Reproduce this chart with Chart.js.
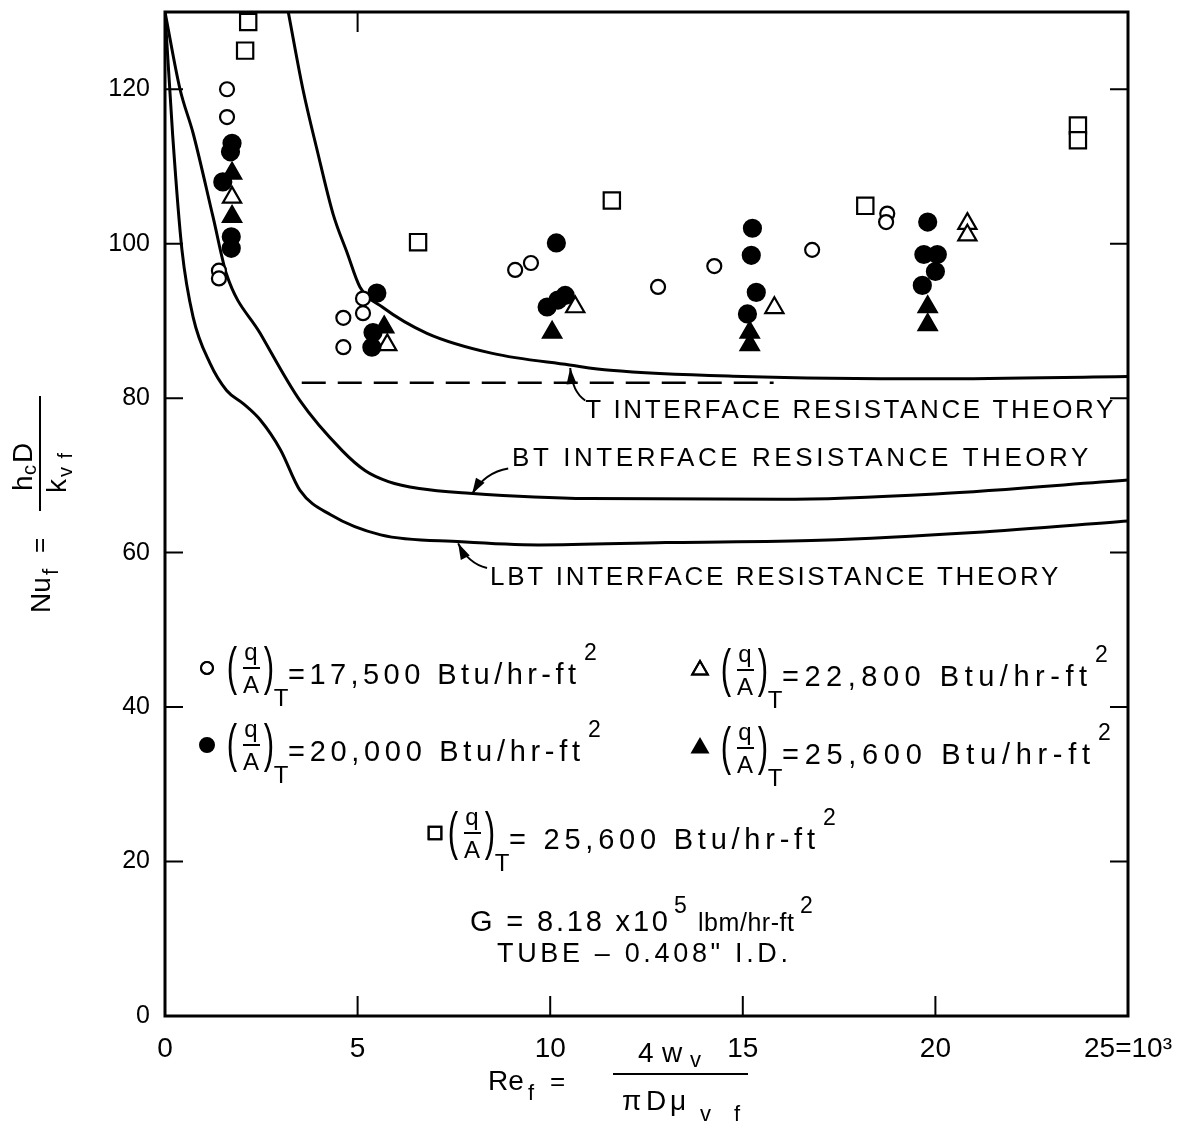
<!DOCTYPE html>
<html>
<head>
<meta charset="utf-8">
<script src="https://cdn.jsdelivr.net/npm/chart.js@4.4.1/dist/chart.umd.min.js"></script>
<style>
  html, body { margin: 0; padding: 0; background: #fff; }
  #wrap { width: 1183px; height: 1126px; }
</style>
</head>
<body>
<div id="wrap"><canvas id="nuChart" width="1183" height="1126"></canvas></div>
<script>
// Re_f (x10^3) and Nu_f
const q17500X = [1.61, 1.61, 1.40, 1.40, 5.14, 5.14, 4.63, 4.63, 9.09, 9.50, 12.80, 14.26, 16.80, 18.75, 18.72];
const q17500Y = [120.0, 116.4, 96.5, 95.5, 92.9, 91.0, 90.4, 86.6, 96.6, 97.5, 94.4, 97.1, 99.2, 103.9, 102.8];

const q20000X = [1.74, 1.70, 1.50, 1.72, 1.72, 5.50, 5.40, 5.37, 10.16, 10.39, 10.20, 9.92, 15.25, 15.22, 15.35, 15.12, 19.80, 19.70, 20.05, 20.00, 19.66];
const q20000Y = [113.0, 111.9, 108.0, 100.9, 99.4, 93.6, 88.5, 86.6, 100.1, 93.3, 92.7, 91.8, 102.0, 98.5, 93.7, 90.9, 102.8, 98.6, 98.6, 96.4, 94.6];

const q22800X = [1.74, 5.77, 10.65, 15.82, 20.83, 20.83];
const q22800Y = [106.0, 86.9, 91.8, 91.7, 102.6, 101.1];

const q25600X = [1.74, 1.74, 5.69, 10.05, 15.18, 15.18, 19.80, 19.80];
const q25600Y = [109.1, 103.5, 89.2, 88.5, 88.5, 86.9, 91.8, 89.5];

const q25600bX = [2.16, 2.08, 6.57, 11.60, 18.18, 23.70, 23.70];
const q25600bY = [128.7, 125.0, 100.2, 105.6, 104.9, 115.3, 113.4];

// theory curves
const tTheoryX = [3.2, 3.58, 3.95, 4.36, 4.73, 5.06, 5.64, 6.8, 8.5, 10.5, 11.56, 15, 20, 25];
const tTheoryY = [130, 120, 112.1, 103.9, 98.8, 94.4, 91.8, 88.4, 85.8, 84.3, 83.6, 82.8, 82.5, 82.8];

const btTheoryX = [0, 0.39, 0.73, 1.25, 1.6, 2.47, 3.5, 4.6, 5.2, 5.8, 6.6, 7.9, 11, 16, 20, 25];
const btTheoryY = [130, 120, 114.3, 103.4, 96.0, 88.4, 79.7, 73.2, 70.6, 69.2, 68.3, 67.7, 67.0, 66.9, 67.6, 69.4];

const lbtTheoryX = [0, 0.2, 0.44, 0.73, 1.17, 1.6, 2.03, 2.47, 3.0, 3.5, 4.3, 5.6, 7.7, 9.7, 13, 17, 21, 25];
const lbtTheoryY = [130, 114, 99.2, 90.5, 84.5, 81.0, 79.3, 77.2, 73.3, 68.1, 64.9, 62.3, 61.4, 61.0, 61.3, 61.6, 62.6, 64.1];

const dashX = [3.55, 15.8];
const dashY = [82.0, 82.0];

const xTicks = [0, 5, 10, 15, 20, 25];
const yTicks = [0, 20, 40, 60, 80, 100, 120];

const FONT = "'Liberation Sans', 'DejaVu Sans', sans-serif";

function pts(xs, ys) {
  return xs.map((x, i) => ({ x: x, y: ys[i] }));
}

// draw text fitted to a given width: squeeze if too wide, track if too narrow
function fitText(ctx, text, x, y, w) {
  ctx.save();
  const m = ctx.measureText(text).width;
  if (m < w && "letterSpacing" in ctx && text.length > 1) {
    ctx.letterSpacing = ((w - m) / (text.length - 1)) + "px";
    ctx.fillText(text, x, y);
  } else {
    ctx.translate(x, y);
    ctx.scale(w / m, 1);
    ctx.fillText(text, 0, 0);
  }
  ctx.restore();
}

function arrow(ctx, tail, ctrl, tip) {
  ctx.beginPath();
  ctx.moveTo(tail[0], tail[1]);
  ctx.quadraticCurveTo(ctrl[0], ctrl[1], tip[0], tip[1]);
  ctx.stroke();
  const ang = Math.atan2(tip[1] - ctrl[1], tip[0] - ctrl[0]);
  const L = 16, W = 5;
  ctx.beginPath();
  ctx.moveTo(tip[0], tip[1]);
  ctx.lineTo(tip[0] - L * Math.cos(ang) + W * Math.sin(ang), tip[1] - L * Math.sin(ang) - W * Math.cos(ang));
  ctx.lineTo(tip[0] - L * Math.cos(ang) - W * Math.sin(ang), tip[1] - L * Math.sin(ang) + W * Math.cos(ang));
  ctx.closePath();
  ctx.fill();
}

// (q/A)_T = ... Btu/hr-ft^2
function legendEntry(ctx, mx, my, style, filled, radius, px, text, textW) {
  ctx.save();
  ctx.lineWidth = 2;
  ctx.strokeStyle = "#000";
  ctx.fillStyle = filled ? "#000" : "#fff";
  Chart.helpers.drawPoint(ctx, { pointStyle: style, radius: radius, rotation: 0, borderWidth: 2 }, mx, my);
  if (!filled) ctx.stroke();
  ctx.fillStyle = "#000";
  ctx.textBaseline = "middle";
  ctx.textAlign = "center";
  ctx.font = "300 52px " + FONT;
  ctx.save();
  ctx.translate(px + 6, my);
  ctx.scale(0.6, 1);
  ctx.fillText("(", 0, 2);
  ctx.restore();
  ctx.save();
  ctx.translate(px + 43, my);
  ctx.scale(0.6, 1);
  ctx.fillText(")", 0, 2);
  ctx.restore();
  ctx.font = "24px " + FONT;
  ctx.fillText("q", px + 25, my - 15);
  ctx.fillText("A", px + 25, my + 18);
  ctx.fillText("T", px + 55, my + 31);
  ctx.fillRect(px + 17, my - 1, 17, 2);
  ctx.textAlign = "left";
  ctx.font = "29px " + FONT;
  fitText(ctx, text, px + 62, my + 8, textW);
  ctx.font = "23px " + FONT;
  ctx.fillText("2", px + 62 + textW + 8, my - 14);
  ctx.restore();
}

const decorPlugin = {
  id: "decor",
  afterDraw(chart) {
    const ctx = chart.ctx;
    const xs = chart.scales.x, ys = chart.scales.y;
    const a = chart.chartArea;
    const P = (xv, yv) => [xs.getPixelForValue(xv), ys.getPixelForValue(yv)];
    ctx.save();
    ctx.strokeStyle = "#000";
    ctx.fillStyle = "#000";

    // frame
    ctx.lineWidth = 3;
    ctx.strokeRect(a.left, a.top, a.right - a.left, a.bottom - a.top);

    // inward ticks
    ctx.lineWidth = 2;
    yTicks.forEach(v => {
      if (v === 0) return;
      const y = ys.getPixelForValue(v);
      ctx.beginPath();
      ctx.moveTo(a.left, y); ctx.lineTo(a.left + 18, y);
      ctx.moveTo(a.right, y); ctx.lineTo(a.right - 18, y);
      ctx.stroke();
    });
    xTicks.forEach(v => {
      if (v === 0 || v === 25) return;
      const x = xs.getPixelForValue(v);
      ctx.beginPath();
      ctx.moveTo(x, a.bottom); ctx.lineTo(x, a.bottom - 20);
      ctx.stroke();
    });
    const x5 = xs.getPixelForValue(5);
    ctx.beginPath();
    ctx.moveTo(x5, a.top); ctx.lineTo(x5, a.top + 20);
    ctx.stroke();

    // theory labels and arrows
    ctx.lineWidth = 2;
    arrow(ctx, P(10.91, 79.7), P(10.57, 80.8), P(10.52, 83.9));
    arrow(ctx, P(8.91, 70.9), P(8.31, 70.4), P(7.97, 67.6));
    arrow(ctx, P(8.36, 58.0), P(7.87, 58.6), P(7.61, 61.2));
    ctx.font = "26px " + FONT;
    ctx.textBaseline = "middle";
    ctx.textAlign = "left";
    let p = P(10.91, 78.4), q = P(24.62, 78.4);
    fitText(ctx, "T INTERFACE RESISTANCE THEORY", p[0], p[1], q[0] - p[0]);
    p = P(9.01, 72.2); q = P(23.97, 72.2);
    fitText(ctx, "BT INTERFACE RESISTANCE THEORY", p[0], p[1], q[0] - p[0]);
    p = P(8.44, 56.8); q = P(23.19, 56.8);
    fitText(ctx, "LBT INTERFACE RESISTANCE THEORY", p[0], p[1], q[0] - p[0]);

    // legend
    legendEntry(ctx, 207, 668, "circle", false, 6, 226, "=17,500 Btu/hr-ft", 288);
    legendEntry(ctx, 700, 670, "triangle", false, 9, 720, "=22,800 Btu/hr-ft", 305);
    legendEntry(ctx, 207, 745, "circle", true, 7, 226, "=20,000 Btu/hr-ft", 292);
    legendEntry(ctx, 700, 748, "triangle", true, 9, 720, "=25,600 Btu/hr-ft", 308);
    legendEntry(ctx, 435, 833, "rect", false, 9, 447, "= 25,600 Btu/hr-ft", 306);

    // conditions
    ctx.textBaseline = "alphabetic";
    ctx.font = "29px " + FONT;
    fitText(ctx, "G = 8.18 x10", 470, 931, 198);
    ctx.font = "23px " + FONT;
    ctx.fillText("5", 674, 913);
    ctx.font = "25px " + FONT;
    fitText(ctx, "lbm/hr-ft", 698, 931, 96);
    ctx.font = "23px " + FONT;
    ctx.fillText("2", 800, 913);
    ctx.font = "27px " + FONT;
    fitText(ctx, "TUBE \u2013 0.408\" I.D.", 497, 962, 291);

    // x axis title
    ctx.font = "28px " + FONT;
    ctx.fillText("Re", 488, 1090);
    ctx.font = "22px " + FONT;
    ctx.fillText("f", 528, 1100);
    ctx.font = "26px " + FONT;
    ctx.fillText("=", 550, 1090);
    ctx.fillRect(613, 1073, 135, 2);
    ctx.font = "28px " + FONT;
    ctx.fillText("4", 638, 1062);
    ctx.fillText("w", 662, 1062);
    ctx.font = "22px " + FONT;
    ctx.fillText("v", 690, 1067);
    ctx.font = "28px " + FONT;
    ctx.fillText("\u03c0", 622, 1110);
    ctx.fillText("D", 646, 1110);
    ctx.fillText("\u03bc", 670, 1110);
    ctx.font = "22px " + FONT;
    fitText(ctx, "vf", 700, 1121, 40);

    // y axis title (rotated)
    ctx.save();
    ctx.translate(40, 505);
    ctx.rotate(-Math.PI / 2);
    ctx.textBaseline = "alphabetic";
    ctx.font = "28px " + FONT;
    ctx.fillText("Nu", -108, 10);
    ctx.font = "22px " + FONT;
    ctx.fillText("f", -70, 18);
    ctx.font = "26px " + FONT;
    ctx.fillText("=", -48, 8);
    ctx.fillRect(-6, -1, 115, 2);
    ctx.font = "28px " + FONT;
    ctx.fillText("h", 14, -8);
    ctx.font = "20px " + FONT;
    ctx.fillText("c", 30, -4);
    ctx.font = "28px " + FONT;
    ctx.fillText("D", 42, -8);
    ctx.fillText("k", 12, 26);
    ctx.font = "20px " + FONT;
    fitText(ctx, "vf", 28, 32, 24);
    ctx.restore();

    ctx.restore();
  }
};

function noPad(s) {
  s.paddingTop = 0; s.paddingBottom = 0; s.paddingLeft = 0; s.paddingRight = 0;
}

const markerBase = { showLine: false, borderColor: "#000", borderWidth: 2.2 };
const lineBase = { showLine: true, pointRadius: 0, borderColor: "#000", borderWidth: 3, cubicInterpolationMode: "monotone", fill: false };

const ctx = document.getElementById("nuChart").getContext("2d");
new Chart(ctx, {
  type: "scatter",
  data: {
    datasets: [
      Object.assign({ label: "17,500", data: pts(q17500X, q17500Y), pointStyle: "circle", pointRadius: 7, backgroundColor: "#fff" }, markerBase),
      Object.assign({ label: "20,000", data: pts(q20000X, q20000Y), pointStyle: "circle", pointRadius: 8.5, backgroundColor: "#000" }, markerBase),
      Object.assign({ label: "22,800", data: pts(q22800X, q22800Y), pointStyle: "triangle", pointRadius: 10.5, backgroundColor: "#fff" }, markerBase),
      Object.assign({ label: "25,600", data: pts(q25600X, q25600Y), pointStyle: "triangle", pointRadius: 10.5, backgroundColor: "#000" }, markerBase),
      Object.assign({ label: "25,600 sq", data: pts(q25600bX, q25600bY), pointStyle: "rect", pointRadius: 11.5, backgroundColor: "#fff" }, markerBase),
      Object.assign({ label: "T theory", data: pts(tTheoryX, tTheoryY) }, lineBase),
      Object.assign({ label: "BT theory", data: pts(btTheoryX, btTheoryY) }, lineBase),
      Object.assign({ label: "LBT theory", data: pts(lbtTheoryX, lbtTheoryY) }, lineBase),
      Object.assign({ label: "dash", data: pts(dashX, dashY) }, lineBase, { borderWidth: 2.5, borderDash: [24, 12], cubicInterpolationMode: "default" })
    ]
  },
  options: {
    responsive: false,
    animation: false,
    layout: { autoPadding: false, padding: { top: 12, right: 55, left: 0, bottom: 0 } },
    plugins: { legend: { display: false }, tooltip: { enabled: false } },
    scales: {
      x: {
        type: "linear", min: 0, max: 25,
        afterFit: s => { s.height = 110; noPad(s); },
        afterBuildTicks: s => { s.ticks = xTicks.map(v => ({ value: v })); },
        grid: { display: false, drawTicks: false },
        border: { display: false },
        ticks: {
          color: "#000", padding: 16, maxRotation: 0,
          font: { family: FONT, size: 28 },
          callback: v => v === 25 ? "25=10\u00b3" : String(v)
        }
      },
      y: {
        type: "linear", min: 0, max: 130,
        afterFit: s => { s.width = 165; noPad(s); },
        afterBuildTicks: s => { s.ticks = yTicks.map(v => ({ value: v })); },
        grid: { display: false, drawTicks: false },
        border: { display: false },
        ticks: {
          color: "#000", padding: 15,
          font: { family: FONT, size: 25 }
        }
      }
    }
  },
  plugins: [decorPlugin]
});
</script>
</body>
</html>
